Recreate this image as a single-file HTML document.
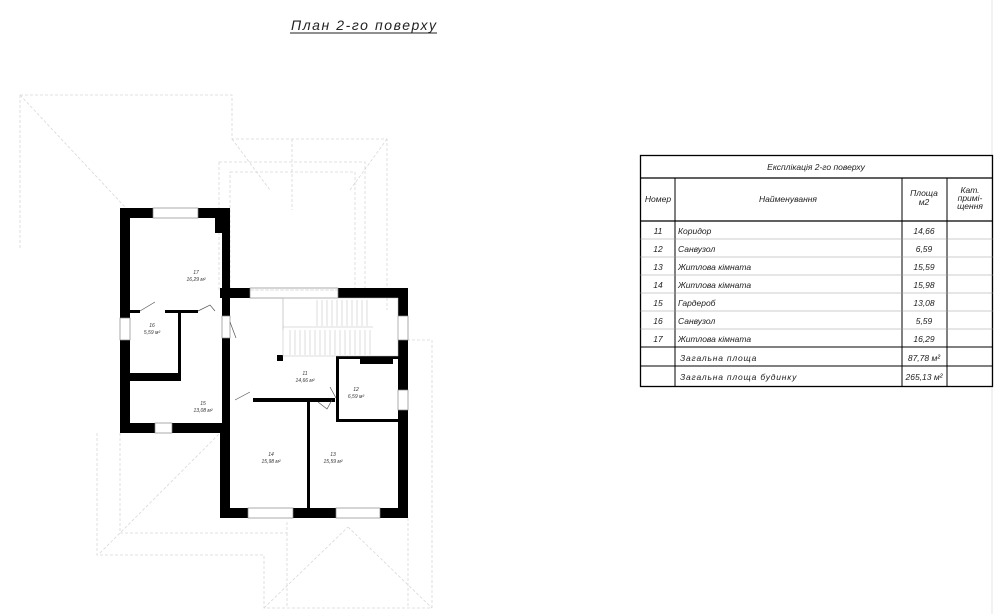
<!DOCTYPE html>
<html><head><meta charset="utf-8"><style>
body{margin:0;background:#fff;}
svg{display:block;font-family:"Liberation Sans","DejaVu Sans",sans-serif;font-style:italic;}
</style></head><body>
<svg width="1000" height="614" viewBox="0 0 1000 614" xmlns="http://www.w3.org/2000/svg">
<rect width="1000" height="614" fill="#fff"/>
<text x="291" y="30" font-size="14" fill="#222" textLength="145">План 2-го поверху</text>
<line x1="290" y1="33" x2="437" y2="33" stroke="#222" stroke-width="1"/>
<line x1="992" y1="0" x2="992" y2="614" stroke="#e4e4e4" stroke-width="1"/>
<!-- roof dashed -->
<g stroke="#d8d8d8" stroke-width="0.8" stroke-dasharray="3,2" fill="none">
<polyline points="20,95 232,95 232,139 387,139 387,310"/>
<line x1="20" y1="95" x2="20" y2="250"/>
<line x1="20" y1="95" x2="125" y2="207"/>
<rect x="219" y="162" width="146" height="128"/>
<rect x="230" y="172" width="125" height="118"/>
<line x1="232" y1="139" x2="270" y2="190"/>
<line x1="387" y1="139" x2="350" y2="190"/>
<line x1="292" y1="139" x2="292" y2="210"/>
<polyline points="97,433 97,555 264,555 264,608 432,608 432,340 408,340"/>
<polyline points="120,433 120,533 287,533 287,520"/>
<line x1="100" y1 ="553" x2="220" y2="433"/>
<line x1="264" y1="608" x2="348" y2="527"/>
<line x1="348" y1="527" x2="432" y2="608"/>
<line x1="287" y1="533" x2="287" y2="608"/>
<line x1="408" y1="518" x2="408" y2="608"/>
</g>
<!-- walls -->
<g fill="#000">
<rect x="120" y="208" width="33" height="10"/>
<rect x="198" y="208" width="32" height="10"/>
<rect x="215" y="208" width="15" height="25"/>
<rect x="120" y="208" width="10" height="110"/>
<rect x="120" y="340" width="10" height="93"/>
<rect x="120" y="423" width="35" height="10"/>
<rect x="172" y="423" width="58" height="10"/>
<rect x="222" y="208" width="8" height="108"/>
<rect x="222" y="338" width="8" height="95"/>
<rect x="220" y="423" width="10" height="95"/>
<rect x="220" y="288" width="30" height="10"/>
<rect x="338" y="288" width="70" height="10"/>
<rect x="398" y="288" width="10" height="28"/>
<rect x="398" y="340" width="10" height="50"/>
<rect x="398" y="410" width="10" height="108"/>
<rect x="220" y="508" width="28" height="10"/>
<rect x="293" y="508" width="43" height="10"/>
<rect x="380" y="508" width="28" height="10"/>
<rect x="130" y="310" width="10" height="3"/>
<rect x="165" y="310" width="33" height="3"/>
<rect x="178" y="313" width="3" height="68"/>
<rect x="130" y="373" width="50" height="8"/>
<rect x="253" y="398" width="82" height="4"/>
<rect x="307" y="398" width="3" height="112"/>
<rect x="336" y="356" width="3" height="66"/>
<rect x="336" y="356" width="62" height="3"/>
<rect x="360" y="356" width="33" height="8"/>
<rect x="336" y="419" width="62" height="3"/>
<rect x="277" y="355" width="6" height="6"/>
</g>
<!-- windows -->
<g stroke="#888" stroke-width="0.7" fill="none">
<rect x="153" y="208" width="45" height="10"/>
<rect x="250" y="288" width="88" height="10"/>
<rect x="120" y="318" width="10" height="22"/>
<rect x="155" y="423" width="17" height="10"/>
<rect x="398" y="316" width="10" height="24"/>
<rect x="398" y="390" width="10" height="20"/>
<rect x="248" y="508" width="45" height="10"/>
<rect x="336" y="508" width="44" height="10"/>
<rect x="222" y="316" width="8" height="22"/>
</g>
<!-- stairs -->
<g stroke="#bbb" stroke-width="0.5" fill="none">
<rect x="283" y="298" width="115" height="58"/>
<line x1="283" y1="327" x2="373" y2="327"/>
<line x1="283" y1="298" x2="283" y2="330"/>
<path d="M317 300v26M322 300v26M327 300v26M332 300v26M337 300v26M342 300v26M347 300v26M352 300v26M357 300v26M362 300v26M367 300v26M290 330v25M295 330v25M300 330v25M305 330v25M310 330v25M315 330v25M320 330v25M325 330v25M330 330v25M335 330v25M340 330v25M345 330v25M350 330v25M355 330v25M360 330v25M365 330v25M370 330v25"/>
</g>
<!-- doors -->
<g stroke="#555" stroke-width="0.7" fill="none">
<path d="M140 311 L155 302 M198 311 L210 305 L215 311 M230 322 L236 338 M235 400 L250 392 M318 402 L327 409 L332 400 M336 398 L330 387"/>
</g>
<!-- room labels -->
<g font-size="5" fill="#333" text-anchor="middle">
<text x="196" y="274">17</text><text x="196" y="281">16,29 м²</text>
<text x="152" y="327">16</text><text x="152" y="334">5,59 м²</text>
<text x="203" y="405">15</text><text x="203" y="412">13,08 м²</text>
<text x="305" y="375">11</text><text x="305" y="382">14,66 м²</text>
<text x="356" y="391">12</text><text x="356" y="398">6,59 м²</text>
<text x="271" y="456">14</text><text x="271" y="463">15,98 м²</text>
<text x="333" y="456">13</text><text x="333" y="463">15,59 м²</text>
</g>
<!-- table -->
<g stroke="#000" fill="none">
<rect x="640.5" y="155.5" width="352" height="231" stroke-width="1.3"/>
<line x1="640" y1="178" x2="993" y2="178" stroke-width="1.2"/>
<line x1="640" y1="221" x2="993" y2="221" stroke-width="1.2"/>
<line x1="675" y1="178" x2="675" y2="386" stroke-width="1"/>
<line x1="902" y1="178" x2="902" y2="386" stroke-width="1"/>
<line x1="947" y1="178" x2="947" y2="386" stroke-width="1"/>
<g stroke="#999" stroke-width="0.6">
<line x1="640" y1="239" x2="993" y2="239"/><line x1="640" y1="257" x2="993" y2="257"/>
<line x1="640" y1="275" x2="993" y2="275"/><line x1="640" y1="293" x2="993" y2="293"/>
<line x1="640" y1="311" x2="993" y2="311"/><line x1="640" y1="329" x2="993" y2="329"/>
</g>
<line x1="640" y1="347" x2="993" y2="347" stroke-width="1"/>
<line x1="640" y1="366" x2="993" y2="366" stroke-width="1"/>
</g>
<g font-size="8.5" fill="#222">
<text x="816" y="170" text-anchor="middle">Експлікація 2-го поверху</text>
<text x="658" y="202" text-anchor="middle">Номер</text>
<text x="788" y="202" text-anchor="middle">Найменування</text>
<text x="924" y="196" text-anchor="middle">Площа</text>
<text x="924" y="205" text-anchor="middle">м2</text>
<text x="970" y="193" text-anchor="middle">Кат.</text>
<text x="970" y="201" text-anchor="middle">примі-</text>
<text x="970" y="209" text-anchor="middle">щення</text>
<g text-anchor="middle">
<text x="658" y="234">11</text><text x="658" y="252">12</text><text x="658" y="270">13</text><text x="658" y="288">14</text><text x="658" y="306">15</text><text x="658" y="324">16</text><text x="658" y="342">17</text>
<text x="924" y="234">14,66</text><text x="924" y="252">6,59</text><text x="924" y="270">15,59</text><text x="924" y="288">15,98</text><text x="924" y="306">13,08</text><text x="924" y="324">5,59</text><text x="924" y="342">16,29</text>
<text x="924" y="361">87,78 м²</text><text x="924" y="380">265,13 м²</text>
</g>
<text x="678" y="234">Коридор</text><text x="678" y="252">Санвузол</text><text x="678" y="270">Житлова кімната</text><text x="678" y="288">Житлова кімната</text><text x="678" y="306">Гардероб</text><text x="678" y="324">Санвузол</text><text x="678" y="342">Житлова кімната</text>
<text x="680" y="361" letter-spacing="0.8">Загальна площа</text>
<text x="680" y="380" letter-spacing="0.8">Загальна площа будинку</text>
</g>
</svg>
</body></html>
